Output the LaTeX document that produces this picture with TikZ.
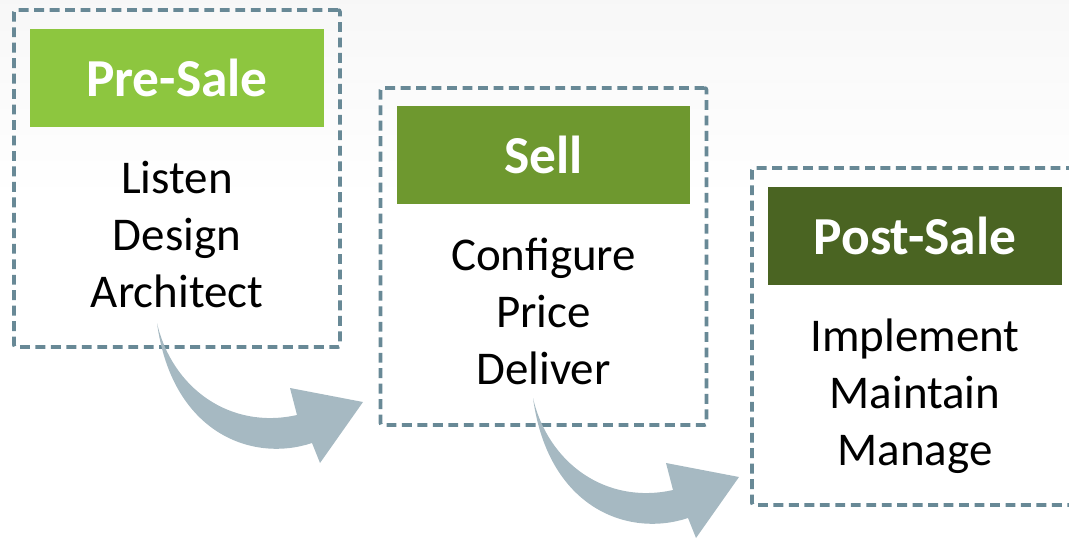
\documentclass[tikz,border=0pt]{standalone}
\usepackage{fontspec}
\setmainfont{Carlito}
\usetikzlibrary{positioning}

\definecolor{presale}{RGB}{141,198,63}
\definecolor{sellgreen}{RGB}{110,152,47}
\definecolor{postsale}{RGB}{74,100,34}
\definecolor{dashgrey}{RGB}{104,137,150}
\definecolor{arrowgrey}{RGB}{166,185,194}

\tikzset{
  stageframe/.style={draw=dashgrey, line width=2.6pt, dash pattern=on 7pt off 4pt,
    rounded corners=1.5pt, minimum width=8.15cm, minimum height=8.425cm, inner sep=0pt},
  stagehead/.style={minimum width=7.325cm, minimum height=2.45cm, inner sep=0pt,
    text=white, font=\fontsize{38}{40}\selectfont\bfseries},
  stagelist/.style={align=center, inner sep=0pt, font=\fontsize{33.4}{40.5}\selectfont},
  bendarrow/.pic={
    \fill[arrowgrey] (0,0) .. controls (15,65) and (73,107) .. (140,92)
      -- (133,65) -- (206,79) -- (163,140) -- (155,120)
      .. controls (95,140) and (15,110) .. cycle;
  }
}

\begin{document}
\begin{tikzpicture}[x=0.025cm, y=-0.025cm]
    \clip (0,0) rectangle (1069,539);
    \shade[top color=black!3, bottom color=white] (0,0) rectangle (1069,200);

    % frames
    \node[stageframe] (preframe) at (177,178.5) {};
    \node[stageframe] (sellframe) at (543.5,256.5) {};
    \node[stageframe] (postframe) at (915,336.5) {};

    % headers
    \node[stagehead, fill=presale, below=0.525cm of preframe.north] (pre) {Pre-Sale};
    \node[stagehead, fill=sellgreen, below=0.5cm of sellframe.north] (sell) {Sell};
    \node[stagehead, fill=postsale, below=0.525cm of postframe.north] (post) {Post-Sale};

    % steps
    \node[stagelist, below=0.82cm of pre] (prelist) {Listen\\Design\\Architect};
    \node[stagelist, below=0.82cm of sell] (selllist) {Configure\\Price\\Deliver};
    \node[stagelist, below=0.82cm of post] (postlist) {Implement\\Maintain\\Manage};

    % arrows
    \coordinate (firsttail) at (157,323);
    \coordinate (secondtail) at (533,398);
    \pic at (firsttail) {bendarrow};
    \pic at (secondtail) {bendarrow};
\end{tikzpicture}
\end{document}
